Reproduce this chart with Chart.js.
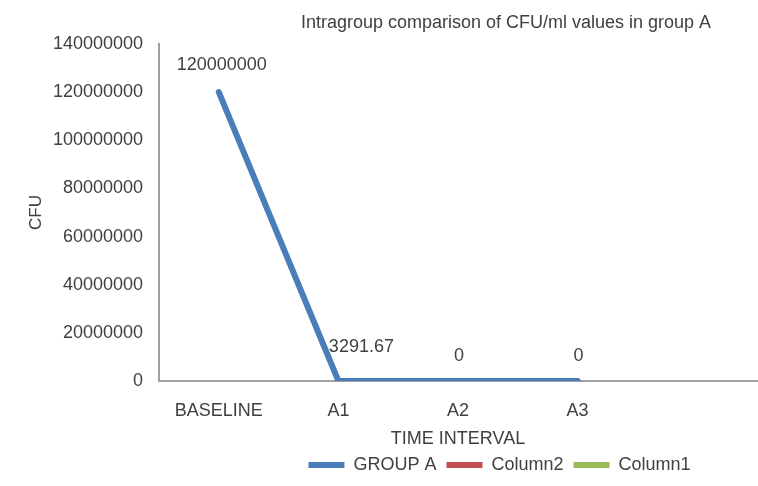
<!DOCTYPE html>
<html>
<head>
<meta charset="utf-8">
<title>CFU chart</title>
<script src="https://cdn.jsdelivr.net/npm/chart.js@4/dist/chart.umd.min.js"></script>
<style>
  html, body { margin: 0; padding: 0; background: #fff; }
  #wrap { width: 758px; height: 486px; }
</style>
</head>
<body>
<div id="wrap"><canvas id="myChart"></canvas></div>
<script>
// chart data
var categories = ["BASELINE", "A1", "A2", "A3", ""];
var groupA = [120000000, 3291.67, 0, 0, null];
var column2 = [null, null, null, null, null];
var column1 = [null, null, null, null, null];
var yTicks = [0, 20000000, 40000000, 60000000, 80000000, 100000000, 120000000, 140000000];

// where each value label sits relative to its point (dx, dy)
var labelNudge = [[3, -27], [23, -34], [1, -25], [1, -25]];

var txt = "#404040";
var fam = "'Liberation Sans', Arial, sans-serif";

// title drawn by hand, it sits right of centre in the original
var titlePlugin = {
  id: 'sideTitle',
  afterDraw: function(chart) {
    var ctx = chart.ctx;
    ctx.save();
    ctx.font = "18px " + fam;
    ctx.fillStyle = txt;
    ctx.textAlign = "center";
    ctx.textBaseline = "middle";
    ctx.fillText("Intragroup comparison of CFU/ml values in group A", 506, 23);
    ctx.restore();
  }
};

// value labels, drawn under the line like in the original
var valueLabels = {
  id: 'valueLabels',
  beforeDatasetsDraw: function(chart) {
    var ctx = chart.ctx;
    var meta = chart.getDatasetMeta(0);
    ctx.save();
    ctx.font = "18px " + fam;
    ctx.fillStyle = txt;
    ctx.textAlign = "center";
    ctx.textBaseline = "middle";
    meta.data.forEach(function(pt, i) {
      var v = groupA[i];
      if (v === null || v === undefined) return;
      var n = labelNudge[i] || [0, -26];
      ctx.fillText(String(v), pt.x + n[0], pt.y + n[1]);
    });
    ctx.restore();
  }
};

// move legend to the right like the original
var legendShift = {
  id: 'legendShift',
  afterLayout: function(chart) {
    chart.legend.left += 121;
    chart.legend.right += 121;
  }
};

new Chart("myChart", {
  type: "line",
  data: {
    labels: categories,
    datasets: [{
      label: "GROUP A",
      data: groupA,
      borderColor: "#4a7ebb",
      backgroundColor: "#4a7ebb",
      borderWidth: 6,
      borderCapStyle: "round",
      pointRadius: 0,
      tension: 0
    }, {
      label: "Column2",
      data: column2,
      borderColor: "#c0504d",
      backgroundColor: "#c0504d",
      borderWidth: 6,
      pointRadius: 0
    }, {
      label: "Column1",
      data: column1,
      borderColor: "#9bbb59",
      backgroundColor: "#9bbb59",
      borderWidth: 6,
      pointRadius: 0
    }]
  },
  options: {
    responsive: true,
    maintainAspectRatio: false,
    animation: false,
    layout: { padding: { top: 44, right: 1, bottom: 2, left: 0 } },
    plugins: {
      legend: {
        position: "bottom",
        labels: {
          usePointStyle: true,
          pointStyle: "line",
          pointStyleWidth: 36,
          font: { family: fam, size: 18 },
          color: txt,
          padding: 10
        }
      },
      title: { display: false },
      tooltip: { enabled: false }
    },
    scales: {
      x: {
        offset: true,
        afterFit: function(scale) { scale.height = 65; },
        grid: { display: false, drawTicks: false },
        border: { display: true, color: "#a0a0a0", width: 2 },
        ticks: { font: { family: fam, size: 18 }, color: txt, padding: 19 },
        title: {
          display: true,
          text: "TIME INTERVAL",
          font: { family: fam, size: 18 },
          color: txt,
          padding: { top: 0, bottom: -4 }
        }
      },
      y: {
        min: 0,
        max: 140000000,
        afterBuildTicks: function(scale) {
          scale.ticks = yTicks.map(function(v) { return { value: v }; });
        },
        afterFit: function(scale) { scale.width = 159; },
        grid: { display: false, drawTicks: false },
        border: { display: true, color: "#a0a0a0", width: 2 },
        ticks: {
          font: { family: fam, size: 18 },
          color: txt,
          padding: 16,
          callback: function(v) { return String(v); }
        },
        title: {
          display: true,
          text: "CFU",
          font: { family: fam, size: 17 },
          color: txt,
          padding: { top: 26, bottom: 0 }
        }
      }
    }
  },
  plugins: [titlePlugin, valueLabels, legendShift]
});
</script>
</body>
</html>
